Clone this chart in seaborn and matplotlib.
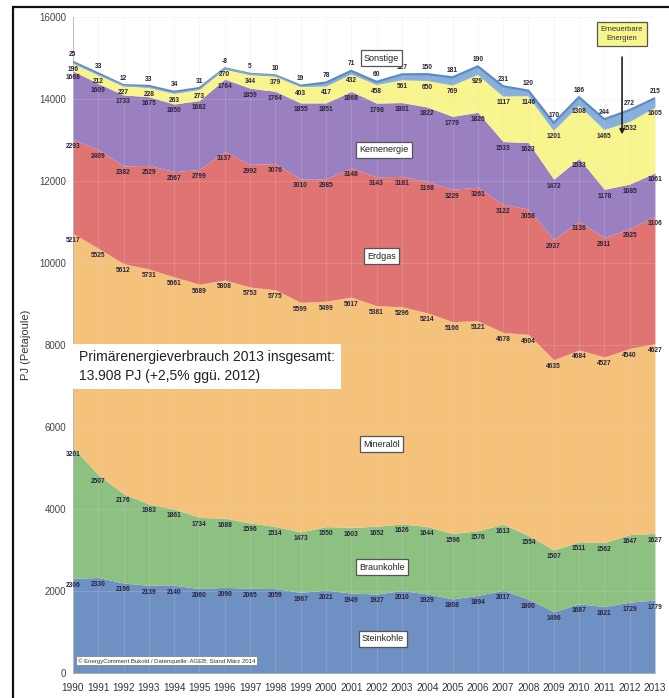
import matplotlib
matplotlib.use("Agg")
import matplotlib.pyplot as plt
import seaborn as sns
import numpy as np
import pandas as pd
from matplotlib.patches import Rectangle

years = list(range(1990, 2014))
steinkohle = [2306, 2330, 2196, 2139, 2140, 2060, 2090, 2065, 2059, 1967, 2021, 1949,
              1927, 2010, 1929, 1808, 1894, 2017, 1800, 1496, 1687, 1621, 1729, 1779]
braunkohle = [3201, 2507, 2176, 1983, 1861, 1734, 1688, 1596, 1514, 1473, 1550, 1603,
              1652, 1626, 1644, 1596, 1576, 1613, 1554, 1507, 1511, 1562, 1647, 1627]
mineraloel = [5217, 5525, 5612, 5731, 5661, 5689, 5808, 5753, 5775, 5599, 5499, 5617,
              5381, 5296, 5214, 5166, 5121, 4678, 4904, 4635, 4684, 4527, 4540, 4627]
erdgas = [2293, 2409, 2382, 2529, 2567, 2799, 3137, 2992, 3076, 3010, 2985, 3148,
          3143, 3181, 3198, 3229, 3261, 3122, 3058, 2937, 3136, 2911, 2925, 3106]
kernenergie = [1668, 1609, 1733, 1675, 1650, 1682, 1764, 1859, 1764, 1855, 1851, 1868,
               1798, 1801, 1822, 1779, 1826, 1533, 1623, 1472, 1533, 1178, 1085, 1061]
erneuerbare = [196, 212, 227, 228, 263, 273, 270, 344, 379, 403, 417, 432,
               458, 561, 650, 769, 929, 1117, 1146, 1201, 1308, 1465, 1532, 1605]
sonstige = [25, 33, 12, 33, 34, 31, -8, 5, 10, 19, 78, 71,
            60, 127, 150, 181, 190, 231, 120, 170, 186, 244, 272, 215]

series_names = ["Steinkohle", "Braunkohle", "Mineralöl", "Erdgas", "Kernenergie",
                "Erneuerbare Energien", "Sonstige"]
series_vals = [steinkohle, braunkohle, mineraloel, erdgas, kernenergie, erneuerbare, sonstige]
colors = ["#6f90c2", "#8dc181", "#f5c27c", "#e07473", "#9a80c0", "#f8f48e", "#86afdc"]

df = pd.DataFrame({n: v for n, v in zip(series_names, series_vals)}, index=years)
cum = df.cumsum(axis=1)

sns.set_theme(style="whitegrid")
plt.rcParams['font.family'] = ['Liberation Sans', 'DejaVu Sans']

fig = plt.figure(figsize=(6.69, 6.98), dpi=100)
ax = fig.add_axes([0.109, 0.0358, 0.870, 0.9398])

ax.stackplot(df.index, *[df[n].values for n in series_names], colors=colors,
             linewidth=0, zorder=1)
# outline of Sonstige band
sns.lineplot(x=df.index, y=cum["Sonstige"].values, ax=ax, color="#5d8ac4", linewidth=1.6, zorder=3)
sns.lineplot(x=df.index, y=cum["Erneuerbare Energien"].values, ax=ax, color="#8fb3dc",
             linewidth=0.8, zorder=3)

ax.set_xlim(1990, 2013)
ax.set_ylim(0, 16000)
ax.set_xticks(years)
ax.set_xticklabels([str(y) for y in years], fontsize=7.2, color="#333333")
ax.set_yticks(range(0, 16001, 2000))
ax.set_yticklabels([str(v) for v in range(0, 16001, 2000)], fontsize=7, color="#444444")
ax.tick_params(axis='both', length=3, width=0.6, color="#999999", pad=2)
ax.tick_params(axis='x', pad=4)
ax.grid(True, color="#d8d8d8", linewidth=0.6)
ax.set_axisbelow(False)
for line in ax.get_xgridlines() + ax.get_ygridlines():
    line.set_alpha(0.25)
    line.set_zorder(2)
ax.set_facecolor("white")
for s in ["top", "right"]:
    ax.spines[s].set_visible(False)
ax.spines["left"].set_color("#aaaaaa")
ax.spines["bottom"].set_color("#aaaaaa")
ax.spines["left"].set_linewidth(0.6)
ax.spines["bottom"].set_linewidth(0.6)
ax.set_ylabel("PJ (Petajoule)", fontsize=8, color="#333333", labelpad=6)
ax.set_xlabel("")

# data labels
for n in series_names:
    off = 5 if n == "Sonstige" else -5
    for x in years:
        ax.annotate(f"{df.loc[x, n]}", (x, cum.loc[x, n]), xytext=(0, off),
                    textcoords="offset points", ha="center", va="center",
                    fontsize=4.8, fontweight="bold", color="#2a2440",
                    annotation_clip=False, zorder=5)

box = dict(boxstyle="square,pad=0.35", facecolor="white", edgecolor="#555555", linewidth=0.9)
labpos = {"Sonstige": (2002.2, 15000), "Kernenergie": (2002.3, 12760),
          "Erdgas": (2002.2, 10170), "Mineralöl": (2002.2, 5585),
          "Braunkohle": (2002.2, 2585), "Steinkohle": (2002.25, 830)}
for n, (x, y) in labpos.items():
    ax.text(x, y, n, fontsize=6.5, ha="center", va="center", bbox=box, zorder=6, color="#222222")

ax.text(2011.7, 15585, "Erneuerbare\nEnergien", fontsize=5.5, ha="center", va="center",
        bbox=dict(boxstyle="square,pad=0.5", facecolor="#f8f48e", edgecolor="#555555", linewidth=0.9),
        zorder=6, color="#333333", linespacing=1.3)
ax.annotate("", xy=(2011.7, 13070), xytext=(2011.7, 15090),
            arrowprops=dict(arrowstyle="-|>", color="#222222", lw=1.2, mutation_scale=7), zorder=6)

ax.text(1990.25, 7480, "Primärenergieverbrauch 2013 insgesamt:\n13.908 PJ (+2,5% ggü. 2012)",
        fontsize=10, ha="left", va="center", color="#222222", linespacing=1.45,
        bbox=dict(boxstyle="square,pad=0.45", facecolor="white", edgecolor="none"), zorder=6)

ax.text(1990.2, 300, "© EnergyComment Bukold / Datenquelle: AGEB; Stand März 2014",
        fontsize=4.3, ha="left", va="center", color="#333333",
        bbox=dict(boxstyle="square,pad=0.3", facecolor="white", edgecolor="#777777", linewidth=0.5),
        zorder=6)

# figure frame
fig.add_artist(Rectangle((13 / 669, -0.01), 1.0, 1.0 - 7 / 698 + 0.01, transform=fig.transFigure,
                         fill=False, edgecolor="#111111", linewidth=1.6))

fig.savefig("out.png", dpi=100)
